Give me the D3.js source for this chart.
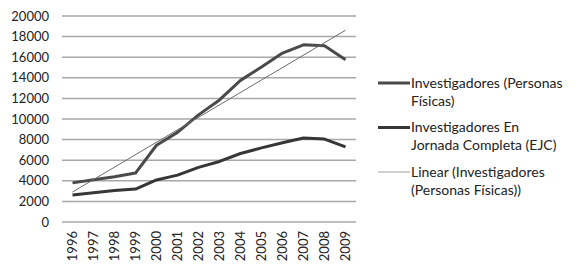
<!DOCTYPE html>
<html>
<head>
<meta charset="utf-8">
<script src="https://cdn.jsdelivr.net/npm/d3@7"></script>
<style>
	body { margin: 0; background: #fff; }
	text { font-family: Lato, "Open Sans", sans-serif; fill: #222; }
</style>
</head>
<body>
<div id="chart"></div>
<script>
// Values
const years = ['1996','1997','1998','1999','2000','2001','2002','2003','2004','2005','2006','2007','2008','2009'];
const personasFisicas = [3800, 4100, 4400, 4750, 7450, 8700, 10400, 11850, 13750, 15050, 16400, 17200, 17100, 15750];
const jornadaCompleta = [2620, 2850, 3050, 3200, 4080, 4550, 5300, 5880, 6650, 7200, 7700, 8150, 8050, 7300];
const yTicks = [0, 2000, 4000, 6000, 8000, 10000, 12000, 14000, 16000, 18000, 20000];
const legendLabels = [
	['Investigadores (Personas', 'Físicas)'],
	['Investigadores En', 'Jornada Completa (EJC)'],
	['Linear (Investigadores', '(Personas Físicas))']
];

const width = 578, height = 272;
const margin = {top: 16, left: 62, right: 222, bottom: 50};
const innerWidth = width - margin.left - margin.right,
	innerHeight = height - margin.top - margin.bottom;

const svg = d3.select('#chart').append('svg')
	.attr('width', width)
	.attr('height', height);

const x = d3.scaleBand()
	.domain(years)
	.range([margin.left, margin.left + innerWidth]);

const y = d3.scaleLinear()
	.domain([0, 20000])
	.range([margin.top + innerHeight, margin.top]);

const cx = d => x(d) + x.bandwidth() / 2;

// gridlines
svg.append('g')
	.selectAll('line')
	.data(yTicks)
	.join('line')
	.attr('x1', margin.left)
	.attr('x2', margin.left + innerWidth)
	.attr('y1', d => y(d))
	.attr('y2', d => y(d))
	.attr('stroke', '#a8a8a8')
	.attr('stroke-width', 1.5);

// y axis labels
const yAxis = svg.append('g')
	.attr('transform', `translate(${margin.left},0)`)
	.call(d3.axisLeft(y).tickValues(yTicks).tickFormat(d3.format('d')).tickSize(0).tickPadding(13));
yAxis.select('.domain').remove();
yAxis.selectAll('text')
	.style('font-family', 'Lato, sans-serif')
	.style('font-size', '13px')
	.attr('fill', '#222');

// x axis labels, rotated
const xAxis = svg.append('g')
	.attr('transform', `translate(0,${margin.top + innerHeight})`)
	.call(d3.axisBottom(x).tickSize(0));
xAxis.select('.domain').remove();
xAxis.selectAll('text')
	.style('font-family', 'Lato, sans-serif')
	.style('font-size', '13px')
	.attr('fill', '#222')
	.attr('text-anchor', 'end')
	.attr('transform', 'rotate(-90)')
	.attr('x', -9)
	.attr('y', 0)
	.attr('dy', '0.35em');

// linear trend of personasFisicas (least squares, as the spreadsheet does)
const idx = years.map((d, i) => i);
const mx = d3.mean(idx), my = d3.mean(personasFisicas);
const slope = d3.sum(idx, i => (i - mx) * (personasFisicas[i] - my)) / d3.sum(idx, i => (i - mx) * (i - mx));
const intercept = my - slope * mx;
const trend = [0, years.length - 1].map(i => ({year: years[i], v: intercept + slope * i}));

const line = d3.line()
	.x(d => cx(d.year))
	.y(d => y(d.v));

const series = [
	{vals: personasFisicas, color: '#4a4a4a', w: 3},
	{vals: jornadaCompleta, color: '#363636', w: 3}
];

series.forEach(s => {
	svg.append('path')
		.datum(years.map((yr, i) => ({year: yr, v: s.vals[i]})))
		.attr('d', line)
		.attr('fill', 'none')
		.attr('stroke', s.color)
		.attr('stroke-width', s.w)
		.attr('stroke-linejoin', 'round');
});

svg.append('path')
	.datum(trend)
	.attr('d', line)
	.attr('fill', 'none')
	.attr('stroke', '#6a6a6a')
	.attr('stroke-width', 1);

// legend
const legendStyles = [
	{color: '#4a4a4a', w: 3},
	{color: '#363636', w: 3},
	{color: '#b0b0b0', w: 1.2}
];
const legend = svg.append('g').attr('transform', 'translate(378,83)');
legendLabels.forEach((lines, i) => {
	const g = legend.append('g').attr('transform', `translate(0,${i * 44.5})`);
	g.append('line')
		.attr('x1', 0).attr('x2', 32)
		.attr('y1', 0).attr('y2', 0)
		.attr('stroke', legendStyles[i].color)
		.attr('stroke-width', legendStyles[i].w);
	lines.forEach((t, j) => {
		g.append('text')
			.attr('x', 33)
			.attr('y', j * 18)
			.attr('dy', '0.35em')
			.style('font-size', '14px')
			.text(t);
	});
});
</script>
</body>
</html>
